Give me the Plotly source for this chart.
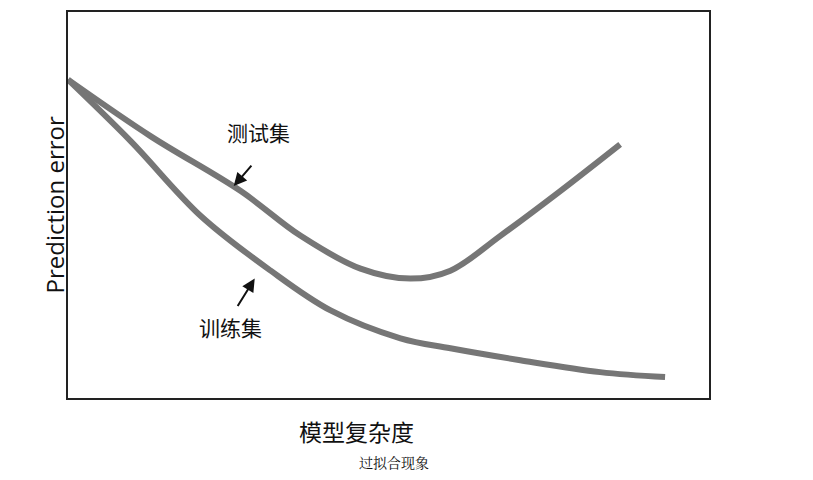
import plotly.graph_objects as go

# data coords: x = complexity, y = error
test_x = [0, 83, 173, 233, 293, 343, 383, 433, 493, 553]
test_y = [320, 263, 208, 163, 130, 120, 128, 163, 208, 255]
train_x = [0, 63, 133, 203, 263, 333, 383, 453, 533, 598]
train_y = [320, 258, 183, 128, 88, 60, 50, 38, 26, 21]

fig = go.Figure()
for xs, ys in [(test_x, test_y), (train_x, train_y)]:
    fig.add_trace(go.Scatter(x=xs, y=ys, mode="lines", line=dict(color="#767676", width=6, shape="spline"),
                             showlegend=False, hoverinfo="skip"))

font = dict(family="Noto Sans CJK SC", size=21, color="#111")
fig.add_annotation(x=191, y=267, text="测试集", showarrow=False, font=font)
fig.add_annotation(x=163, y=71, text="训练集", showarrow=False, font=font)
fig.add_annotation(x=166, y=213, ax=185, ay=235, xref="x", yref="y", axref="x", ayref="y",
                   text="", showarrow=True, arrowhead=2, arrowsize=1.3, arrowwidth=2, arrowcolor="#111")
fig.add_annotation(x=187, y=120, ax=169, ay=91, xref="x", yref="y", axref="x", ayref="y",
                   text="", showarrow=True, arrowhead=2, arrowsize=1.3, arrowwidth=2, arrowcolor="#111")
fig.add_annotation(x=0.45, y=-0.035, xref="paper", yref="paper", yanchor="top", text="模型复杂度",
                   showarrow=False, font=dict(family="Noto Sans CJK SC", size=23, color="#111"))
fig.add_annotation(x=0.508, y=-0.135, xref="paper", yref="paper", yanchor="top", text="过拟合现象",
                   showarrow=False, font=dict(family="Noto Serif CJK SC, Noto Sans CJK SC", size=14, color="#111"))
fig.add_annotation(x=-0.05, y=0.5, xref="paper", yref="paper", text="Prediction error", textangle=-90,
                   showarrow=False, font=dict(family="Open Sans", size=24, color="#111"))

fig.update_xaxes(range=[0, 642], showticklabels=False, showgrid=False, zeroline=False,
                 showline=True, mirror=True, linecolor="#222", linewidth=1.5)
fig.update_yaxes(range=[0, 388], showticklabels=False, showgrid=False, zeroline=False,
                 showline=True, mirror=True, linecolor="#222", linewidth=1.5)
fig.update_layout(width=813, height=480, margin=dict(l=60, r=112, t=2, b=90),
                  plot_bgcolor="white", paper_bgcolor="white")
fig.write_html("out.html")
